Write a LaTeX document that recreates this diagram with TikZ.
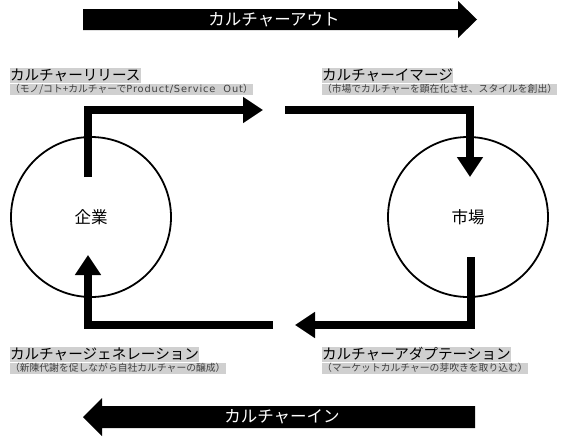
\documentclass[tikz,border=0pt]{standalone}
\usepackage{fontspec}
\newfontfamily\jpfont{Noto Sans CJK JP}
\newfontfamily\latinfont[LetterSpace=9]{DejaVu Sans}
\usepackage{tikz}
\usetikzlibrary{arrows.meta, positioning}
\definecolor{hilite}{RGB}{208,208,208}

\begin{document}
\begin{tikzpicture}[x=1pt,y=-1pt,every node/.style={font=\jpfont,outer sep=0pt}]

\tikzstyle{flow}=[line width=8pt,line join=miter,-{Triangle[length=20pt,width=25pt]}]
\tikzstyle{arrowtext}=[text=white,inner sep=0pt,font=\jpfont\fontsize{16.5}{20}\selectfont]
\tikzstyle{place}=[circle,draw,line width=1.8pt,minimum size=160pt,font=\jpfont\fontsize{16.5}{20}\selectfont]
\tikzstyle{title}=[fill=hilite,inner sep=0pt,anchor=west,text height=12.6pt,text depth=2pt,font=\jpfont\fontsize{14.6}{17}\selectfont]
\tikzstyle{sub}=[fill=hilite,inner sep=0pt,text=black!75,text height=8.6pt,text depth=2pt,font=\jpfont\fontsize{9.8}{12}\selectfont]

\useasboundingbox (0,0) rectangle (569,437);

% culture out / culture in
\fill (83,9) -- (458,9) -- (458,1) -- (477,19.5) -- (458,38) -- (458,30) -- (83,30) -- cycle;
\node (outtext) [arrowtext] at (274,19.5) {カルチャーアウト};
\fill (475,406) -- (102,406) -- (102,398) -- (83,417) -- (102,436) -- (102,428) -- (475,428) -- cycle;
\node (intext) [arrowtext] at (282,417) {カルチャーイン};

\node (firm) [place] at (91,217) {企業};
\node (market) [place] at (468,217) {市場};

% stage labels
\node (reltitle) [title] at (10,75.5) {カルチャーリリース};
\node (relsub) [sub,below right=1.5pt and 0pt of reltitle.south west] {（モノ/コト+カルチャーで{\latinfont Product/Service\ \ Out}）};
\node (imgtitle) [title] at (322,75.5) {カルチャーイマージ};
\node (imgsub) [sub,below right=1.5pt and 0pt of imgtitle.south west] {（市場でカルチャーを顕在化させ、スタイルを創出）};
\node (gentitle) [title] at (10,354.5) {カルチャージェネレーション};
\node (gensub) [sub,below right=1.5pt and 0pt of gentitle.south west] {（新陳代謝を促しながら自社カルチャーの醸成）};
\node (adptitle) [title] at (322,354.5) {カルチャーアダプテーション};
\node (adpsub) [sub,below right=1.5pt and 0pt of adptitle.south west] {（マーケットカルチャーの芽吹きを取り込む）};

% cycle
\coordinate (relstart) at (88,177);
\coordinate (relend) at (263,110);
\coordinate (imgstart) at (285,110);
\coordinate (imgend) at (470,177);
\coordinate (adpstart) at (471,257);
\coordinate (adpend) at (295,325);
\coordinate (genstart) at (273,325);
\coordinate (genend) at (88,255);

\draw [flow] (relstart) |- (relend);
\draw [flow] (imgstart) -| (imgend);
\draw [flow] (adpstart) |- (adpend);
\draw [flow] (genstart) -| (genend);

\end{tikzpicture}
\end{document}
